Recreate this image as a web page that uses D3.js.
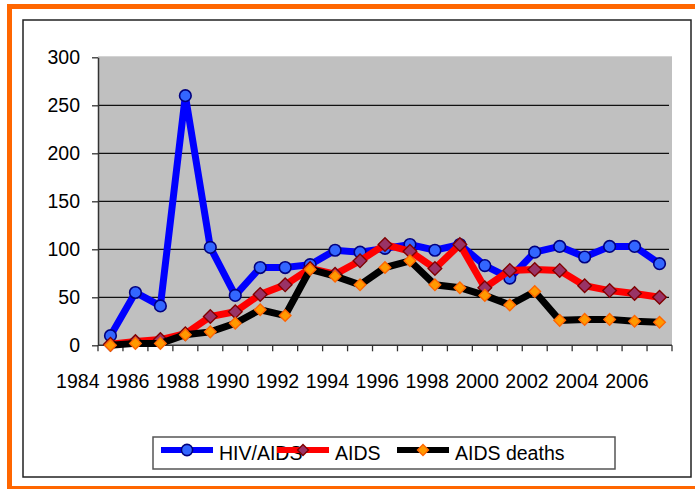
<!DOCTYPE html>
<html lang="en">
<head>
<meta charset="UTF-8">
<script src="https://d3js.org/d3.v7.min.js"></script>
<title>HIV/AIDS</title>
<style>
  body { margin: 0; background: #fff; }
  text { font-family: "Liberation Sans", Arial, sans-serif; font-size: 19.5px; fill: #000; }
</style>
</head>
<body>
<div id="chart"></div>
<script>
// data
var years = d3.range(1984, 2007);
var tickLabels = [1984, 1986, 1988, 1990, 1992, 1994, 1996, 1998, 2000, 2002, 2004, 2006];
var hivAids = [10, 55, 41, 260, 102, 52, 81, 81, 84, 99, 97, 101, 105, 99, 105, 83, 70, 97, 103, 92, 103, 103, 85];
var aids    = [1, 4, 6, 12, 30, 35, 53, 63, 80, 74, 88, 105, 98, 80, 105, 60, 78, 79, 78, 62, 57, 54, 50];
var deaths  = [0, 2, 2, 11, 14, 23, 37, 31, 79, 72, 63, 81, 88, 63, 60, 52, 42, 56, 26, 27, 27, 25, 24];
var yTicks = [0, 50, 100, 150, 200, 250, 300];

var width = 695, height = 489;

var svg = d3.select('#chart').append('svg')
    .attr('width', width)
    .attr('height', height);

// orange frame + chart border
svg.append('rect')
    .attr('x', 9.5).attr('y', 6.5)
    .attr('width', 700).attr('height', 482)
    .attr('fill', 'none')
    .attr('stroke', '#ff6600')
    .attr('stroke-width', 5);

svg.append('rect')
    .attr('x', 23).attr('y', 20)
    .attr('width', 668).attr('height', 457)
    .attr('fill', '#fff')
    .attr('stroke', '#222')
    .attr('stroke-width', 1.5);

var x = d3.scaleBand()
    .domain(years)
    .range([98, 672])
    .padding(0);

var y = d3.scaleLinear()
    .domain([0, 300])
    .range([345.3, 57.3]);

// plot area
svg.append('rect')
    .attr('x', x.range()[0]).attr('y', y(300) - 1)
    .attr('width', x.range()[1] - x.range()[0])
    .attr('height', y(0) - y(300) + 1)
    .attr('fill', '#c0c0c0');

// gridlines
svg.append('g')
    .selectAll('line')
    .data(yTicks.filter(function(d) { return d > 0 && d < 300; }))
    .enter()
    .append('line')
        .attr('x1', x.range()[0])
        .attr('x2', x.range()[1] - 3)
        .attr('y1', function(d) { return y(d); })
        .attr('y2', function(d) { return y(d); })
        .attr('stroke', '#111')
        .attr('stroke-width', 1.3);

// y axis
var yAxis = svg.append('g')
    .attr('transform', 'translate(' + x.range()[0] + ',0)')
    .call(d3.axisLeft(y).tickValues(yTicks).tickSize(6).tickSizeOuter(0).tickPadding(12));
yAxis.select('.domain').attr('stroke', '#333').attr('stroke-width', 1.5);
yAxis.selectAll('.tick line').attr('stroke', '#333').attr('stroke-width', 1.3);
yAxis.selectAll('text')
    .style('font-family', '"Liberation Sans", Arial, sans-serif')
    .style('font-size', '19.5px')
    .attr('fill', '#000');

// x axis: line, ticks on band edges, labels
var xg = svg.append('g');
xg.append('line')
    .attr('x1', x.range()[0]).attr('x2', x.range()[1])
    .attr('y1', y(0)).attr('y2', y(0))
    .attr('stroke', '#333').attr('stroke-width', 1.5);

var edges = years.map(function(d) { return x(d); }).concat([x.range()[1]]);
xg.selectAll('.xtick')
    .data(edges)
    .enter()
    .append('line')
        .attr('class', 'xtick')
        .attr('x1', function(d) { return d; })
        .attr('x2', function(d) { return d; })
        .attr('y1', y(0))
        .attr('y2', y(0) + 6)
        .attr('stroke', '#333')
        .attr('stroke-width', 1.3);

xg.selectAll('.xlabel')
    .data(tickLabels)
    .enter()
    .append('text')
        .attr('class', 'xlabel')
        .attr('x', function(d) { return x(d) + 1.5; })
        .attr('y', 388.3)
        .attr('text-anchor', 'end')
        .text(function(d) { return d; });

// series
var diamond = function(s) {
    return 'M0,' + (-s) + 'L' + s + ',0L0,' + s + 'L' + (-s) + ',0Z';
};

var series = [
    { name: 'HIV/AIDS', values: hivAids, line: '#0000ff', marker: 'circle', fill: '#3366ff', stroke: '#000080', size: 5.8 },
    { name: 'AIDS', values: aids, line: '#ff0000', marker: 'diamond', fill: '#993366', stroke: '#800000', size: 6.8 },
    { name: 'AIDS deaths', values: deaths, line: '#000000', marker: 'diamond', fill: '#ff9900', stroke: '#ff6600', size: 5.8 }
];

var line = d3.line()
    .x(function(d, i) { return x(years[i]) + x.bandwidth() / 2; })
    .y(function(d) { return y(d); });

function drawMarker(sel, s) {
    if (s.marker === 'circle') {
        sel.append('circle')
            .attr('r', s.size)
            .attr('fill', s.fill)
            .attr('stroke', s.stroke)
            .attr('stroke-width', 1.6);
    } else {
        sel.append('path')
            .attr('d', diamond(s.size))
            .attr('fill', s.fill)
            .attr('stroke', s.stroke)
            .attr('stroke-width', 1.4);
    }
}

series.forEach(function(s) {
    var g = svg.append('g');
    g.append('path')
        .datum(s.values)
        .attr('d', line)
        .attr('fill', 'none')
        .attr('stroke', s.line)
        .attr('stroke-width', 7)
        .attr('stroke-linejoin', 'miter');

    g.selectAll('.pt')
        .data(s.values)
        .enter()
        .append('g')
            .attr('class', 'pt')
            .attr('transform', function(d, i) {
                return 'translate(' + (x(years[i]) + x.bandwidth() / 2) + ',' + y(d) + ')';
            })
            .each(function() { drawMarker(d3.select(this), s); });
});

// legend
var legend = svg.append('g');
legend.append('rect')
    .attr('x', 153).attr('y', 437)
    .attr('width', 462).attr('height', 32)
    .attr('fill', '#fff')
    .attr('stroke', '#555')
    .attr('stroke-width', 1.5);

var legendX = [161, 277, 397];
series.forEach(function(s, i) {
    var lg = legend.append('g').attr('transform', 'translate(' + legendX[i] + ',450)');
    lg.append('line')
        .attr('x1', 0).attr('x2', 52)
        .attr('y1', 0).attr('y2', 0)
        .attr('stroke', s.line)
        .attr('stroke-width', 6);
    var m = lg.append('g').attr('transform', 'translate(26,0)');
    drawMarker(m, { marker: s.marker, fill: s.fill, stroke: s.stroke, size: s.marker === 'circle' ? 5.6 : 5.5 });
    lg.append('text')
        .attr('x', 58)
        .attr('y', 10)
        .text(s.name);
});
</script>
</body>
</html>
